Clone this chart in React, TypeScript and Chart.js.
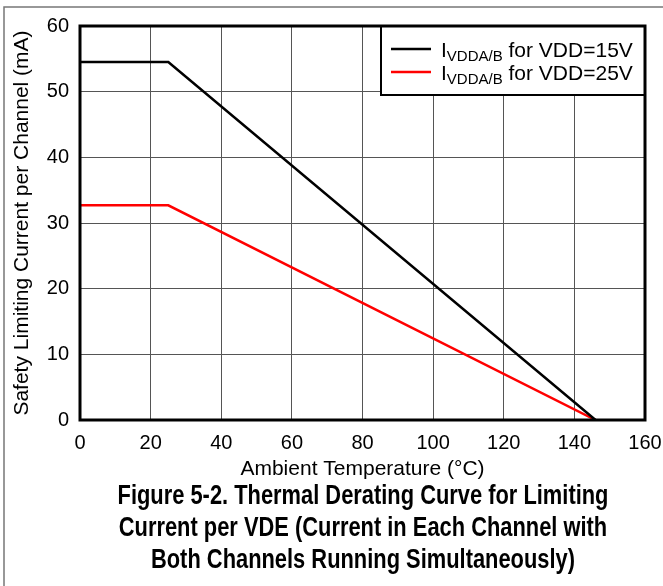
import React, { useEffect, useRef } from "react";
import { Chart, registerables } from "chart.js";

Chart.register(...registerables);

// ---- data ----
const temperatures: number[] = [0, 25, 146];
const current15V: number[] = [54.5, 54.5, 0];
const current25V: number[] = [32.7, 32.7, 0];

const seriesNames: string[] = ["for VDD=15V", "for VDD=25V"];
const seriesColors: string[] = ["#000000", "#ff0000"];
const xTitle = "Ambient Temperature (°C)";
const yTitle = "Safety Limiting Current per Channel (mA)";
const captionLines: string[] = [
  "Figure 5-2. Thermal Derating Curve for Limiting",
  "Current per VDE (Current in Each Channel with",
  "Both Channels Running Simultaneously)",
];

const FONT = "'Liberation Sans', Arial, sans-serif";

const framePlugin = {
  id: "frameAndLegend",
  afterDraw(chart: any) {
    const { ctx, chartArea } = chart;
    const { left, top, right, bottom } = chartArea;
    ctx.save();
    // legend box
    const boxW = 264;
    const boxH = 69;
    const bx = right - boxW;
    const by = top;
    ctx.fillStyle = "#ffffff";
    ctx.fillRect(bx, by, boxW, boxH);
    ctx.strokeStyle = "#000";
    ctx.lineWidth = 2;
    ctx.strokeRect(bx, by, boxW, boxH);
    [0, 1].forEach((i) => {
      const ly = by + 23 + i * 23;
      ctx.strokeStyle = seriesColors[i];
      ctx.lineWidth = 2.5;
      ctx.beginPath();
      ctx.moveTo(bx + 10, ly);
      ctx.lineTo(bx + 50, ly);
      ctx.stroke();
      ctx.fillStyle = "#000";
      ctx.textBaseline = "alphabetic";
      ctx.textAlign = "left";
      const base = ly + 8;
      ctx.font = `21px ${FONT}`;
      let x = bx + 60;
      ctx.fillText("I", x, base);
      x += ctx.measureText("I").width;
      ctx.font = `15px ${FONT}`;
      ctx.fillText("VDDA/B", x, base + 4);
      x += ctx.measureText("VDDA/B").width;
      ctx.font = `21px ${FONT}`;
      ctx.fillText(" " + seriesNames[i], x, base);
    });
    // plot frame
    ctx.strokeStyle = "#000";
    ctx.lineWidth = 3;
    ctx.strokeRect(left, top, right - left, bottom - top);
    // outer figure frame (top & left)
    ctx.strokeStyle = "#777";
    ctx.lineWidth = 1.5;
    ctx.beginPath();
    ctx.moveTo(4, chart.height);
    ctx.lineTo(4, 7);
    ctx.lineTo(chart.width, 7);
    ctx.stroke();
    ctx.restore();
  },
};

export default function App() {
  const canvasRef = useRef<HTMLCanvasElement | null>(null);

  useEffect(() => {
    if (!canvasRef.current) return;
    const mk = (ys: number[]) => temperatures.map((t, i) => ({ x: t, y: ys[i] }));
    const chart = new Chart(canvasRef.current, {
      type: "line",
      data: {
        datasets: [
          {
            label: seriesNames[0],
            data: mk(current15V),
            borderColor: seriesColors[0],
            borderWidth: 2.5,
            pointRadius: 0,
            tension: 0,
          },
          {
            label: seriesNames[1],
            data: mk(current25V),
            borderColor: seriesColors[1],
            borderWidth: 2.5,
            pointRadius: 0,
            tension: 0,
          },
        ],
      },
      options: {
        animation: false,
        responsive: false,
        devicePixelRatio: 1,
        layout: { padding: { top: 26, right: 18, left: 0, bottom: 104 } },
        plugins: { legend: { display: false }, tooltip: { enabled: false } },
        scales: {
          x: {
            type: "linear",
            min: 0,
            max: 160,
            ticks: { stepSize: 20, color: "#000", padding: 11, font: { family: FONT, size: 20 }, maxRotation: 0 },
            grid: { color: "#555", lineWidth: 1, drawTicks: false },
            border: { display: false },
            title: {
              display: true,
              text: xTitle,
              color: "#000",
              font: { family: FONT, size: 21 },
              padding: { top: 0, bottom: 0 },
            },
            afterFit: (s: any) => {
              s.height = 62;
              s.paddingRight = 0;
              s.paddingLeft = 0;
            },
          },
          y: {
            type: "linear",
            min: 0,
            max: 60,
            ticks: { stepSize: 10, color: "#000", padding: 11, font: { family: FONT, size: 20 } },
            grid: { color: "#555", lineWidth: 1, drawTicks: false },
            border: { display: false },
            title: {
              display: true,
              text: yTitle,
              color: "#000",
              font: { family: FONT, size: 21 },
              padding: { top: 10, bottom: 0 },
            },
            afterFit: (s: any) => {
              s.width = 80;
              s.paddingTop = 0;
              s.paddingBottom = 0;
            },
          },
        },
      },
      plugins: [framePlugin],
    });
    return () => chart.destroy();
  }, []);

  return (
    <div style={{ position: "fixed", left: 0, top: 0, width: 663, height: 586, background: "#fff", overflow: "hidden" }}>
      <canvas ref={canvasRef} width={663} height={586} style={{ position: "absolute", left: 0, top: 0 }} />
      <div
        style={{
          position: "absolute",
          left: 363 - 400,
          top: 479,
          width: 800,
          textAlign: "center",
          fontFamily: FONT,
          fontWeight: "bold",
          fontSize: 27,
          lineHeight: "32px",
          color: "#000",
          transform: "scaleX(0.81)",
          transformOrigin: "50% 0",
          whiteSpace: "nowrap",
        }}
      >
        {captionLines.map((l, i) => (
          <div key={i}>{l}</div>
        ))}
      </div>
    </div>
  );
}
